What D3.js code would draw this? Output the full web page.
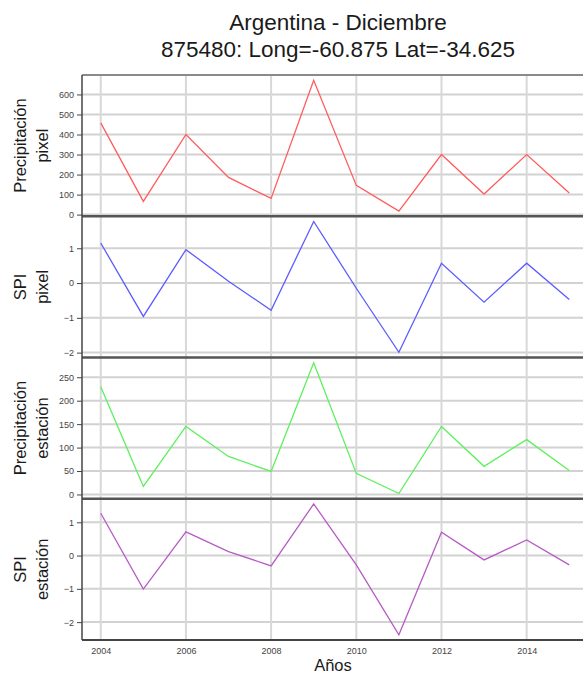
<!DOCTYPE html>
<html><head><meta charset="utf-8">
<script src="https://cdn.jsdelivr.net/npm/d3@7"></script>
<style>
body{margin:0;background:#fff;}
text{font-family:"Liberation Sans",Arial,sans-serif;}
</style></head>
<body><svg id="c" width="583" height="673"></svg>
<script>
const years = [2004,2005,2006,2007,2008,2009,2010,2011,2012,2013,2014,2015];
const precipPixel = [458,66,400,186,81,671,146,18,300,103,300,108];
const spiPixel = [1.15,-0.96,0.96,0.05,-0.78,1.77,-0.15,-1.99,0.57,-0.55,0.57,-0.47];
const precipEstacion = [230,17,145,81,49,281,45,2,145,60,117,51];
const spiEstacion = [1.27,-1.01,0.71,0.12,-0.31,1.55,-0.28,-2.38,0.70,-0.13,0.47,-0.28];
const xTicks = [2004,2006,2008,2010,2012,2014];
const panelLabels = [["Precipitación","pixel"],["SPI","pixel"],["Precipitación","estación"],["SPI","estación"]];
const panelTicks = [[0,100,200,300,400,500,600],[-2,-1,0,1],[0,50,100,150,200,250],[-2,-1,0,1]];
const colors = ["#ff5c5c","#5c5cff","#5cf05c","#b65cc4"];
const title1 = "Argentina - Diciembre";
const title2 = "875480: Long=-60.875 Lat=-34.625";
const xLabel = "Años";

const series = [precipPixel, spiPixel, precipEstacion, spiEstacion];
const svg = d3.select("#c");
const L = 82, R = 588, T = 75, B = 640;
const ph = (B - T) / 4;
function pad(ext, f){ const r = ext[1]-ext[0]; return [ext[0]-f*r, ext[1]+f*r]; }
const x = d3.scaleLinear().domain(pad(d3.extent(years),0.04)).range([L,R]);

svg.append("text").attr("x",338).attr("y",30).attr("text-anchor","middle")
  .attr("font-size",22.5).attr("fill","#1a1a1a").text(title1);
svg.append("text").attr("x",338).attr("y",57).attr("text-anchor","middle")
  .attr("font-size",22.5).attr("fill","#1a1a1a").text(title2);

series.forEach((vals,i)=>{
  const top = T + i*ph, bot = top + ph;
  const y = d3.scaleLinear().domain(pad(d3.extent(vals),0.04)).range([bot,top]);
  const g = svg.append("g");
  g.selectAll(".hg").data(panelTicks[i]).join("line")
    .attr("x1",L).attr("x2",R).attr("y1",d=>y(d)).attr("y2",d=>y(d))
    .attr("stroke","#d2d2d2").attr("stroke-width",2);
  g.selectAll(".vg").data(xTicks).join("line")
    .attr("x1",d=>x(d)).attr("x2",d=>x(d)).attr("y1",top).attr("y2",bot)
    .attr("stroke","#d8d8d8").attr("stroke-width",2);
  g.append("path").datum(vals)
    .attr("d", d3.line().x((d,j)=>x(years[j])).y(d=>y(d)))
    .attr("fill","none").attr("stroke",colors[i]).attr("stroke-width",1.3);
  const ax = g.append("g").attr("transform",`translate(${L},0)`)
    .call(d3.axisLeft(y).tickValues(panelTicks[i]).tickSize(5).tickPadding(3).tickFormat(d3.format("d")));
  ax.select(".domain").remove();
  ax.selectAll(".tick line").attr("stroke","#444");
  ax.selectAll(".tick text").attr("font-size",9).attr("fill","#444")
    .attr("font-family","\"Liberation Sans\",Arial,sans-serif");
  const cy = (top+bot)/2;
  panelLabels[i].forEach((t,k)=>{
    svg.append("text").attr("transform",`translate(${26+k*22},${cy}) rotate(-90)`)
      .attr("text-anchor","middle").attr("font-size",16.5).attr("fill","#1a1a1a").text(t);
  });
});
for(let i=1;i<4;i++){
  svg.append("line").attr("x1",L).attr("x2",R).attr("y1",T+i*ph).attr("y2",T+i*ph)
    .attr("stroke","#555").attr("stroke-width",2.5);
}
svg.append("line").attr("x1",L).attr("x2",R).attr("y1",T).attr("y2",T)
  .attr("stroke","#8a8a8a").attr("stroke-width",2);
svg.append("line").attr("x1",L).attr("x2",R).attr("y1",B).attr("y2",B)
  .attr("stroke","#444").attr("stroke-width",2);
svg.append("line").attr("x1",L).attr("x2",L).attr("y1",T).attr("y2",B)
  .attr("stroke","#444").attr("stroke-width",1.5);
const xa = svg.append("g").attr("transform",`translate(0,${B})`)
  .call(d3.axisBottom(x).tickValues(xTicks).tickSize(0).tickPadding(8).tickFormat(d3.format("d")));
xa.select(".domain").remove();
xa.selectAll(".tick text").attr("font-size",9).attr("fill","#444")
  .attr("font-family","\"Liberation Sans\",Arial,sans-serif");
svg.append("text").attr("x",333).attr("y",671).attr("text-anchor","middle")
  .attr("font-size",16.5).attr("fill","#1a1a1a").text(xLabel);
</script></body></html>
